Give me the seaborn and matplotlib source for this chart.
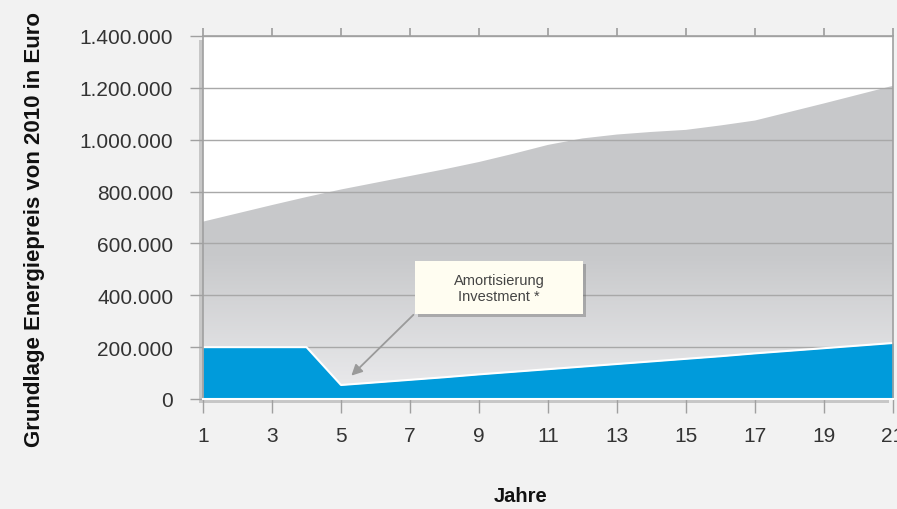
import numpy as np
import matplotlib
matplotlib.use("Agg")
import matplotlib.pyplot as plt
import matplotlib.patheffects as pe
from matplotlib.patches import FancyBboxPatch
import seaborn as sns

# data
years = list(range(1, 22))
energy_cost = [684000, 716000, 748000, 779000, 808000, 834000, 860000, 886000,
               914000, 946000, 980000, 1005000, 1020000, 1030000, 1038000,
               1055000, 1074000, 1107000, 1140000, 1174000, 1208000]
with_investment = [200000, 200000, 200000, 200000, 54000, 64000, 74000, 84000,
                   95000, 105000, 115000, 125000, 135000, 145000, 155000,
                   165000, 176000, 186000, 196000, 206000, 216000]
xticks = list(range(1, 22, 2))
yticks = list(range(0, 1400001, 200000))
note = "Amortisierung\nInvestment *"

sns.set_theme(style="white")
plt.rcParams["font.family"] = ["Liberation Sans", "DejaVu Sans"]

fig = plt.figure(figsize=(8.97, 5.10), dpi=100, facecolor="#f2f2f2")
ax = fig.add_axes([203 / 897, 1 - 400 / 510, 690 / 897, 363 / 510])
ax.set_facecolor("white")
ax.patch.set_path_effects([pe.withSimplePatchShadow(offset=(-3, -3), shadow_rgbFace="#777777", alpha=0.35)])

# gray area with vertical gradient
gray_poly = ax.fill_between(years, 0, energy_cost, facecolor="none", edgecolor="none", zorder=1)
ymax = 1400000
rows = np.linspace(0, ymax, 400)
t = np.clip(rows / 550000, 0, 1)[:, None]
bottom_c = np.array([0.925, 0.925, 0.933])
top_c = np.array([0.784, 0.788, 0.796])
grad = (bottom_c * (1 - t) + top_c * t)[:, None, :]
im = ax.imshow(grad, extent=[years[0], years[-1], 0, ymax], origin="lower",
               aspect="auto", zorder=1, interpolation="bilinear")
im.set_clip_path(gray_poly.get_paths()[0], ax.transData)

# grid lines
for v in yticks[1:]:
    ax.axhline(v, color="#a8a8a8", lw=1, zorder=1.5)

# blue area
ax.fill_between(years, 0, with_investment, color="#009bdb", lw=0, zorder=2)
sns.lineplot(x=years, y=with_investment, color="white", lw=1.5, ax=ax, zorder=2.5)

ax.set_xlim(years[0], years[-1])
ax.set_ylim(0, ymax)
ax.set_xticks(xticks)
ax.set_xticklabels([str(v) for v in xticks])
ax.set_yticks(yticks)
ax.set_yticklabels([f"{v:,}".replace(",", ".") for v in yticks])
ax.tick_params(axis="both", labelsize=15, labelcolor="#333333", color="#a0a0a0",
               width=1, direction="out")
ax.tick_params(axis="y", length=9.5, pad=12, left=True)
ax.tick_params(axis="x", length=10, pad=9.5, bottom=True)
top = ax.secondary_xaxis("top")
top.set_xticks(xticks)
top.tick_params(length=6, color="#a0a0a0", labeltop=False, direction="out")
top.spines["top"].set_visible(False)

for side in ["left", "top", "right"]:
    ax.spines[side].set_color("#a0a0a0")
    ax.spines[side].set_linewidth(1.2)
ax.spines["bottom"].set_color("white")
ax.spines["bottom"].set_linewidth(1.5)
ax.set_xlabel("")
ax.set_ylabel("")

# annotation box with arrow
box = FancyBboxPatch((0.307, 0.234), 0.244, 0.146, boxstyle="square,pad=0",
                     transform=ax.transAxes, facecolor="#fffdf1", edgecolor="none", zorder=4)
box.set_path_effects([pe.withSimplePatchShadow(offset=(2, -2), shadow_rgbFace="#555555", alpha=0.35)])
ax.add_patch(box)
ax.text(0.429, 0.305, note, transform=ax.transAxes, ha="center", va="center",
        fontsize=10.5, color="#444444", linespacing=1.15, zorder=5)
ax.annotate("", xy=(5.3, 90000), xytext=(0.305, 0.232), textcoords="axes fraction",
            arrowprops=dict(arrowstyle="-|>", color="#9a9a9a", lw=1.3, mutation_scale=16,
                            shrinkA=0, shrinkB=0), zorder=3)

fig.text(35 / 897, 1 - 230 / 510, "Grundlage Energiepreis von 2010 in Euro", rotation=90,
         ha="center", va="center", fontsize=16, fontweight="bold", color="#111111")
fig.text(521 / 897, 1 - 497 / 510, "Jahre", ha="center", va="center",
         fontsize=14.5, fontweight="bold", color="#111111")

fig.savefig("out.png", dpi=100, facecolor=fig.get_facecolor())
